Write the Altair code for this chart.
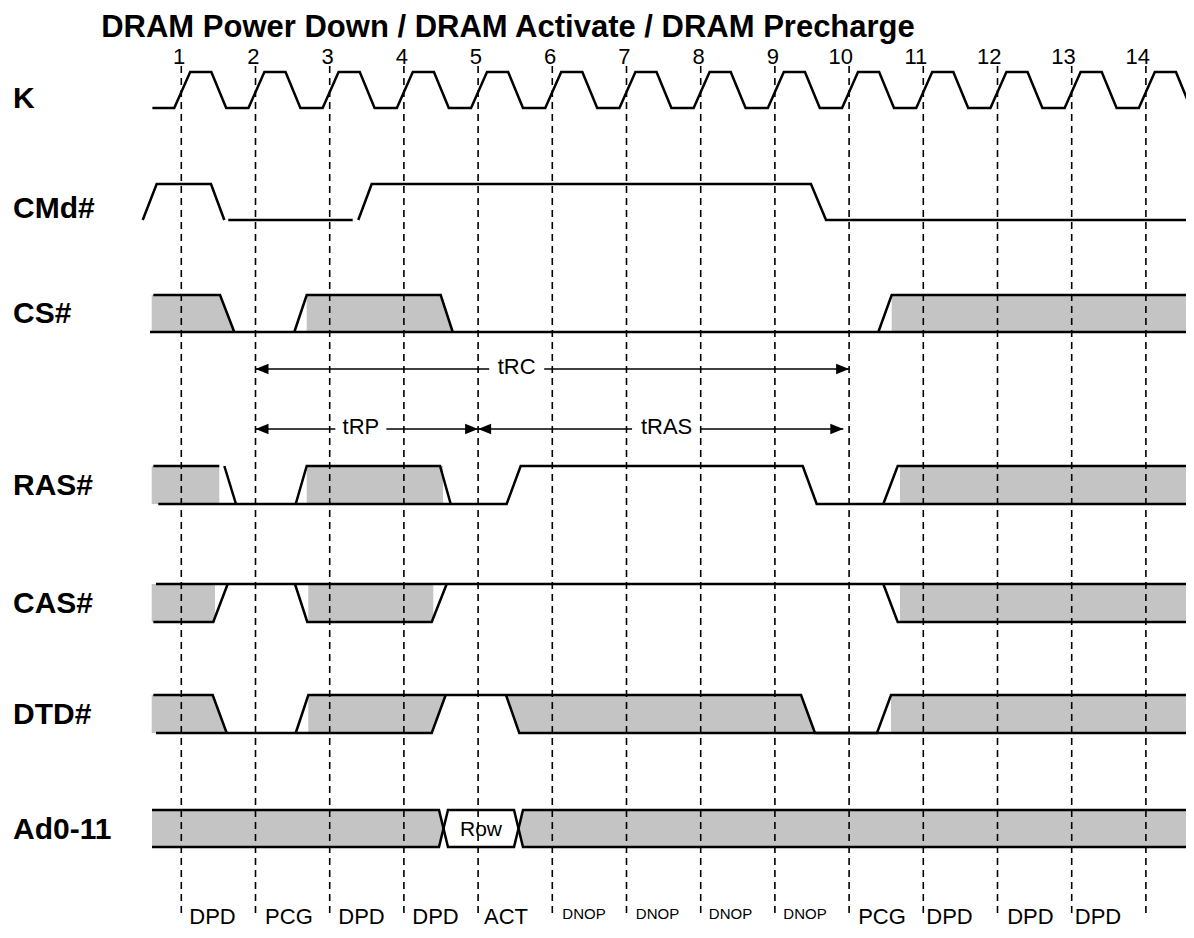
import altair as alt
import pandas as pd

# ------------------------------------------------------------------ data
TITLE = "DRAM Power Down / DRAM Activate / DRAM Precharge"
CYCLES = list(range(1, 15))                                  # clock numbers
SIGNALS = ["K", "CMd#", "CS#", "RAS#", "CAS#", "DTD#", "Ad0-11"]

# clock K : one trapezoid per cycle, offsets (in cycles) from the clock line
K_FIRST = 0.61
K_SHAPE = [(-0.095, 0), (0.12, 1), (0.405, 1), (0.605, 0)]

# signal outlines: polylines of (time in clock cycles, logic level 0/1)
CMD_LINES = [
    [(0.48, 0), (0.668, 1), (1.40, 1), (1.58, 0)],
    [(1.633, 0), (3.31, 0)],
    [(3.385, 0), (3.566, 1), (9.486, 1), (9.689, 0), (14.571, 0)],
]
CS_LINES = [
    [(0.578, 0), (14.567, 0)],
    [(0.623, 1), (1.522, 1), (1.714, 0)],
    [(2.523, 0), (2.690, 1), (4.496, 1), (4.658, 0)],
    [(10.394, 0), (10.574, 1), (14.567, 1)],
]
RAS_LINES = [
    [(0.623, 1), (1.512, 1)],
    [(1.580, 1), (1.737, 0)],
    [(0.690, 0), (5.385, 0), (5.574, 1), (9.375, 1), (9.563, 0), (14.571, 0)],
    [(2.542, 0), (2.690, 1), (4.487, 1), (4.631, 0)],
    [(10.461, 0), (10.655, 1), (14.571, 1)],
]
CAS_LINES = [
    [(0.659, 1), (14.571, 1)],
    [(0.623, 0), (1.431, 0), (1.625, 1)],
    [(2.532, 1), (2.698, 0), (4.375, 0), (4.577, 1)],
    [(10.461, 1), (10.655, 0), (14.571, 0)],
]
DTD_LINES = [
    [(0.623, 1), (1.423, 1), (1.612, 0)],
    [(0.659, 0), (4.375, 0), (4.563, 1)],
    [(2.542, 0), (2.712, 1), (9.352, 1), (9.540, 0), (10.376, 0), (10.565, 1), (14.567, 1)],
    [(5.376, 1), (5.555, 0), (14.567, 0)],
]
AD_LINES = [
    [(0.605, 1), (4.473, 1), (4.594, 0), (5.484, 0), (5.605, 1), (14.594, 1)],
    [(0.605, 0), (4.473, 0), (4.594, 1), (5.484, 1), (5.605, 0), (14.594, 0)],
]

# shaded (don't care) regions: (time, top level, bottom level)
CS_FILLS = [
    [(0.601, 1, 0), (1.522, 1, 0), (1.714, 0, 0)],
    [(2.690, 1, 0), (4.496, 1, 0), (4.658, 0, 0)],
    [(10.574, 1, 0), (14.635, 1, 0)],
]
RAS_FILLS = [
    [(0.601, 1, 0), (1.512, 1, 0)],
    [(2.690, 1, 0), (4.527, 1, 0)],
    [(10.686, 1, 0), (14.639, 1, 0)],
]
CAS_FILLS = [
    [(0.601, 1, 0), (1.454, 1, 0)],
    [(2.712, 1, 0), (4.396, 1, 0)],
    [(10.686, 1, 0), (14.639, 1, 0)],
]
DTD_FILLS = [
    [(0.601, 1, 0), (1.423, 1, 0), (1.612, 0, 0)],
    [(2.712, 1, 0), (4.375, 1, 0), (4.563, 1, 1)],
    [(5.376, 1, 1), (5.555, 1, 0), (9.352, 1, 0), (9.540, 0, 0)],
    [(10.565, 1, 0), (14.635, 1, 0)],
]
AD_FILLS = [
    [(0.605, 1, 0), (4.473, 1, 0), (4.533, 0.5, 0.5)],
    [(5.545, 0.5, 0.5), (5.605, 1, 0), (14.635, 1, 0)],
]
AD_VALUE = "Row"
AD_VALUE_T = 5.039

# timing arrows
ARROW_NAMES = ["tRC", "tRP", "tRAS"]
ARROW_FROM = [2.0, 2.0, 5.0]
ARROW_TO = [10.0, 5.0, 9.922]
ARROW_LABEL_T = [5.52, 3.42, 7.54]

# command issued in each cycle
COMMANDS = ["DPD", "PCG", "DPD", "DPD", "ACT", "DNOP", "DNOP", "DNOP", "DNOP",
            "PCG", "DPD", "DPD", "DPD"]
COMMAND_T = [1.420, 2.451, 3.429, 4.426, 5.376, 6.427, 7.418, 8.402, 9.406,
             10.443, 11.353, 12.444, 13.354]

# ------------------------------------------------------------------ layout
MARGIN = 8
W, H = 1178, 922
PX_LINE1, PX_PER_CYCLE = 181.3, 74.2


def t_of(px):
    return 1 + (px - PX_LINE1) / PX_PER_CYCLE


X_DOMAIN = [t_of(MARGIN), t_of(MARGIN + W)]
Y_DOMAIN = [MARGIN, MARGIN + H]

ROW_LEVELS = {  # (high, low) pixel rows
    "K": (72, 108), "CMd#": (184, 220), "CS#": (295, 332), "RAS#": (466, 504),
    "CAS#": (584, 622), "DTD#": (695, 733), "Ad0-11": (810, 847),
}
LABEL_BASELINE = {"K": 108, "CMd#": 217.5, "CS#": 322.5, "RAS#": 495,
                  "CAS#": 613, "DTD#": 724, "Ad0-11": 839}
ARROW_Y = [369, 429, 429]
ARROW_GAP_PX = [55, 51, 69]
GRID_TOP, GRID_BOTTOM = 66, 915
SHADE = "#c4c4c4"
FONT = "Liberation Sans"


def py(sig, level):
    hi, lo = ROW_LEVELS[sig]
    return lo - level * (lo - hi)


k_line = [(K_FIRST, 0)] + [(c + dt, lv) for c in CYCLES for dt, lv in K_SHAPE]
SIGNAL_LINES = {"K": [k_line], "CMd#": CMD_LINES, "CS#": CS_LINES, "RAS#": RAS_LINES,
                "CAS#": CAS_LINES, "DTD#": DTD_LINES, "Ad0-11": AD_LINES}
SIGNAL_FILLS = {"CS#": CS_FILLS, "RAS#": RAS_FILLS, "CAS#": CAS_FILLS,
                "DTD#": DTD_FILLS, "Ad0-11": AD_FILLS}

rows = []
for sig, polys in SIGNAL_LINES.items():
    for j, poly in enumerate(polys):
        for i, (t, lv) in enumerate(poly):
            rows.append(dict(seg=f"{sig}-{j}", i=i, t=t, py=py(sig, lv)))
lines_df = pd.DataFrame(rows)

xs = alt.Scale(domain=X_DOMAIN, nice=False, zero=False)
ys = alt.Scale(domain=Y_DOMAIN, reverse=True, nice=False, zero=False)
X = alt.X("t:Q", scale=xs, axis=None)
X2 = alt.X2("t2:Q")
Y = alt.Y("py:Q", scale=ys, axis=None)
Y2 = alt.Y2("py2:Q")

# one area layer per shaded polygon
fill_layers = []
for sig, polys in SIGNAL_FILLS.items():
    for poly in polys:
        df = pd.DataFrame([dict(t=t, py=py(sig, top), py2=py(sig, bot)) for t, top, bot in poly])
        fill_layers.append(
            alt.Chart(df).mark_area(fill=SHADE, fillOpacity=1, opacity=1,
                                    interpolate="linear").encode(x=X, y=Y, y2=Y2))

grid_df = pd.DataFrame({"t": CYCLES, "py": GRID_TOP, "py2": GRID_BOTTOM})
grid = alt.Chart(grid_df).mark_rule(color="black", strokeWidth=1.6, strokeDash=[7, 5]).encode(
    x=X, y=Y, y2=Y2)

waves = alt.Chart(lines_df).mark_line(color="black", strokeWidth=2.5, strokeJoin="miter").encode(
    x=X, y=Y, detail="seg:N", order="i:Q")

# arrows
shaft_rows, head_rows, alabel_rows = [], [], []
for name, a, b, lt, y, gap in zip(ARROW_NAMES, ARROW_FROM, ARROW_TO, ARROW_LABEL_T, ARROW_Y, ARROW_GAP_PX):
    half = gap / 2 / PX_PER_CYCLE
    shaft_rows.append(dict(t=a, t2=lt - half, py=y))
    shaft_rows.append(dict(t=lt + half, t2=b, py=y))
    head_rows.append(dict(t=a, py=y, d="left"))
    head_rows.append(dict(t=b, py=y, d="right"))
    alabel_rows.append(dict(t=lt, py=y + 4.5, txt=name))
shafts = alt.Chart(pd.DataFrame(shaft_rows)).mark_rule(color="black", strokeWidth=1.6).encode(
    x=X, x2=X2, y=Y)
heads_df = pd.DataFrame(head_rows)
head_r = alt.Chart(heads_df[heads_df.d == "right"]).mark_point(
    shape="M0,0L-1,-0.4L-1,0.4Z", size=676, filled=True, color="black", opacity=1,
    strokeWidth=0).encode(x=X, y=Y)
head_l = alt.Chart(heads_df[heads_df.d == "left"]).mark_point(
    shape="M0,0L1,-0.4L1,0.4Z", size=676, filled=True, color="black", opacity=1,
    strokeWidth=0).encode(x=X, y=Y)
arrow_text = alt.Chart(pd.DataFrame(alabel_rows)).mark_text(
    font=FONT, fontSize=22, align="center", baseline="alphabetic", color="black").encode(
    x=X, y=Y, text="txt:N")

# texts
title = alt.Chart(pd.DataFrame({"t": [t_of(508)], "py": [36.5], "txt": [TITLE]})).mark_text(
    font=FONT, fontSize=31, fontWeight="bold", align="center", baseline="alphabetic",
    color="black").encode(x=X, y=Y, text="txt:N")

num_df = pd.DataFrame({"t": [c + 4 / PX_PER_CYCLE for c in CYCLES], "py": 63.5,
                       "txt": [str(c) for c in CYCLES]})
numbers = alt.Chart(num_df).mark_text(
    font=FONT, fontSize=22, align="right", baseline="alphabetic", color="black").encode(
    x=X, y=Y, text="txt:N")

lab_df = pd.DataFrame({"t": t_of(13), "py": [LABEL_BASELINE[s] for s in SIGNALS], "txt": SIGNALS})
labels = alt.Chart(lab_df).mark_text(
    font=FONT, fontSize=30, fontWeight="bold", align="left", baseline="alphabetic",
    color="black").encode(x=X, y=Y, text="txt:N")

hi, lo = ROW_LEVELS["Ad0-11"]
row_txt = alt.Chart(pd.DataFrame({"t": [AD_VALUE_T], "py": [(hi + lo) / 2 + 7.5], "txt": [AD_VALUE]})).mark_text(
    font=FONT, fontSize=21, align="center", baseline="alphabetic", color="black").encode(
    x=X, y=Y, text="txt:N")

cmd_df = pd.DataFrame({"t": COMMAND_T, "txt": COMMANDS})
cmd_df["small"] = cmd_df.txt == "DNOP"
cmd_df["py"] = [919 if s else 924 for s in cmd_df.small]
cmds = alt.Chart(cmd_df).mark_text(
    font=FONT, align="center", baseline="alphabetic", color="black").encode(
    x=X, y=Y, text="txt:N",
    size=alt.condition("datum.small", alt.value(15), alt.value(22)))

chart = alt.layer(
    *fill_layers, grid, waves, shafts, head_r, head_l, arrow_text, title, numbers, labels,
    row_txt, cmds
).properties(
    width=W, height=H, padding=0, autosize=alt.AutoSizeParams(type="none"),
    background="white"
).configure_view(stroke=None)

chart.save("out.html", embed_options={"renderer": "svg", "actions": False})
